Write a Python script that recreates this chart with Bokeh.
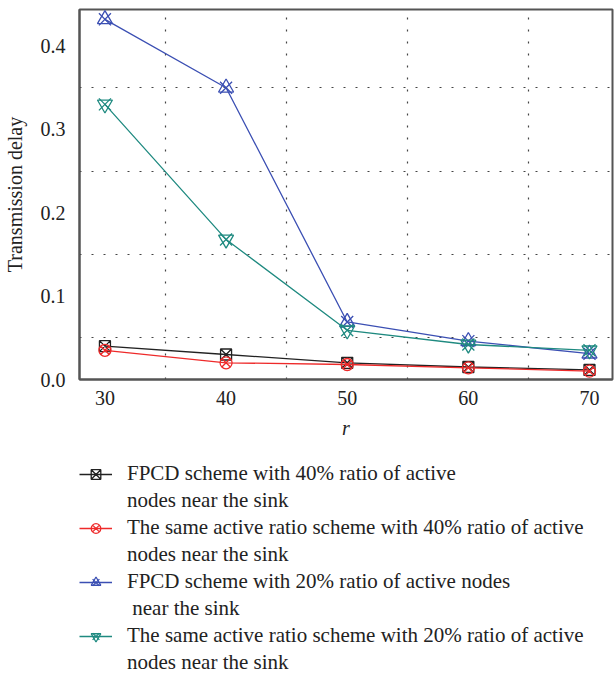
from bokeh.plotting import figure
from bokeh.layouts import column
from bokeh.models import FixedTicker, PrintfTickFormatter, Legend, LegendItem, Range1d
from bokeh.embed import file_html
from bokeh.resources import INLINE

r = [30, 40, 50, 60, 70]
fpcd40 = [0.040, 0.030, 0.020, 0.015, 0.0115]
same40 = [0.035, 0.020, 0.018, 0.014, 0.010]
fpcd20 = [0.432, 0.350, 0.069, 0.046, 0.031]
same20 = [0.330, 0.168, 0.059, 0.042, 0.035]

labels = [
    ["FPCD scheme with 40% ratio of active", "nodes near the sink"],
    ["The same active ratio scheme with 40% ratio of active", "nodes near the sink"],
    ["FPCD scheme with 20% ratio of active nodes", " near the sink"],
    ["The same active ratio scheme with 20% ratio of active", "nodes near the sink"],
]
x_ticks = [30, 40, 50, 60, 70]
y_ticks = [0.0, 0.1, 0.2, 0.3, 0.4]
grid_x = [35, 45, 55, 65]
grid_y = [0.05, 0.15, 0.25, 0.35]

FONT = "Liberation Serif"
BLACK = "#222222"
RED = "#ee2a2a"
BLUE = "#3b4fb3"
TEAL = "#1f8a80"

styles = [
    (BLACK, [("square_x", 11)]),
    (RED, [("circle_x", 12)]),
    (BLUE, [("triangle", 15), ("x", 17)]),
    (TEAL, [("inverted_triangle", 15), ("x", 17)]),
]
series = [fpcd40, same40, fpcd20, same20]

# ---------------- main plot ----------------
p = figure(frame_width=533, frame_height=370, output_backend="svg", toolbar_location=None,
           x_range=Range1d(27.9, 71.9), y_range=Range1d(0, 0.4438),
           min_border_left=79, min_border_right=3, min_border_top=9,
           min_border_bottom=68)

p.outline_line_color = "#555555"
p.outline_line_width = 2
p.background_fill_color = "white"
p.border_fill_color = "white"

p.xaxis.ticker = FixedTicker(ticks=x_ticks)
p.yaxis.ticker = FixedTicker(ticks=y_ticks)
p.yaxis.formatter = PrintfTickFormatter(format="%.1f")
for ax in (p.xaxis[0], p.yaxis[0]):
    ax.axis_line_color = "#555555"
    ax.axis_line_width = 2
    ax.major_tick_line_color = None
    ax.minor_tick_line_color = None
    ax.major_label_text_font = FONT
    ax.major_label_text_font_size = "20px"
    ax.major_label_text_color = "#222222"
    ax.axis_label_text_font = FONT
    ax.axis_label_text_font_size = "20px"
    ax.axis_label_text_color = "#222222"
p.xaxis.axis_label = "r"
p.xaxis.axis_label_text_font_style = "italic"
p.xaxis.major_label_standoff = 5
p.xaxis.axis_label_standoff = 9
p.yaxis.axis_label = "Transmission delay"
p.yaxis.axis_label_text_font_style = "normal"
p.yaxis.major_label_standoff = 8
p.yaxis.axis_label_standoff = 12

p.xgrid.ticker = FixedTicker(ticks=grid_x)
p.ygrid.ticker = FixedTicker(ticks=grid_y)
for g in (p.xgrid[0], p.ygrid[0]):
    g.grid_line_color = "#444444"
    g.grid_line_dash = "2 10"
    g.grid_line_width = 1.2

for ys, (color, marks) in zip(series, styles):
    p.line(r, ys, line_color=color, line_width=1.3)
    for mk, sz in marks:
        if mk == "x":
            p.scatter(r, ys, marker=mk, size=sz, line_color=color, line_width=1.3)
        else:
            p.scatter(r, ys, marker=mk, size=sz, line_color=color, fill_color=None, line_width=1.3)

# ---------------- legend panel (its renderers lie outside its visible ranges) ----------------
lg = figure(frame_width=533, height=225, output_backend="svg", toolbar_location=None,
            x_range=Range1d(0, 1), y_range=Range1d(0, 1e-6),
            x_axis_location=None, y_axis_location=None,
            min_border_left=79, min_border_right=3, min_border_top=14, min_border_bottom=0)
lg.outline_line_color = None
lg.grid.visible = False
lg.background_fill_color = "white"
lg.border_fill_color = "white"

blank = lg.line(r, fpcd40, line_alpha=0)
items = []
for ys, (color, marks), (first, second) in zip(series, styles, labels):
    rends = [lg.line(r, ys, line_color=color, line_width=1.3)]
    for mk, sz in marks:
        lsz = sz * 0.9
        if mk == "x":
            rends.append(lg.scatter(r, ys, marker=mk, size=lsz, line_color=color, line_width=1.3))
        else:
            rends.append(lg.scatter(r, ys, marker=mk, size=lsz, line_color=color,
                                    fill_color=None, line_width=1.3))
    items.append(LegendItem(label=first, renderers=rends))
    items.append(LegendItem(label=second, renderers=[blank]))

legend = Legend(items=items, location="top_left", orientation="vertical")
legend.border_line_color = None
legend.background_fill_alpha = 0
legend.label_text_font = FONT
legend.label_text_font_size = "21px"
legend.label_text_color = "#222222"
legend.label_text_line_height = 1.0
legend.label_height = 24
legend.glyph_width = 33
legend.glyph_height = 24
legend.label_standoff = 15
legend.spacing = 2
legend.padding = 1
legend.margin = 0
lg.add_layout(legend, "center")

layout = column(p, lg, spacing=0)
open("out.html", "w").write(file_html(layout, INLINE))
